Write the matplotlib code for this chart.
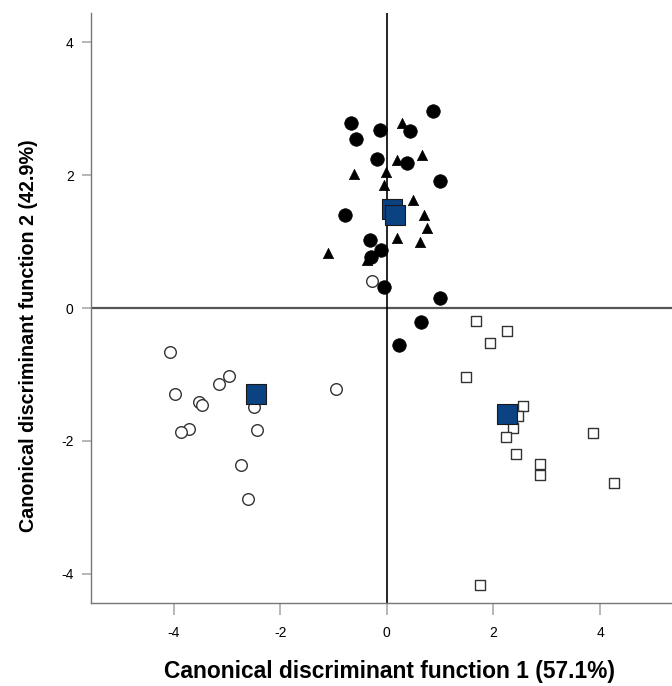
import matplotlib
matplotlib.use("Agg")
import matplotlib.pyplot as plt

plt.rcParams["font.family"] = ["Liberation Sans", "DejaVu Sans"]
plt.rcParams["axes.unicode_minus"] = False

# group 1: filled circles
g1_x = [0.87, -0.675, -0.13, 0.44, -0.57, -0.18, 0.37, 1.0, -0.78, -0.32, -0.11, -0.29, -0.05, 0.99, 0.65, 0.225]
g1_y = [2.96, 2.78, 2.68, 2.66, 2.55, 2.25, 2.18, 1.91, 1.40, 1.02, 0.87, 0.77, 0.32, 0.15, -0.21, -0.56]

# group 2: filled triangles
g2_x = [0.29, 0.66, 0.2, -0.62, -0.02, -0.06, 0.49, 0.70, 0.76, 0.2, 0.62, -1.10, -0.38]
g2_y = [2.78, 2.31, 2.23, 2.01, 2.05, 1.85, 1.63, 1.40, 1.20, 1.05, 1.00, 0.83, 0.73]

# group 3: open circles
g3_x = [-0.28, -4.07, -2.96, -3.15, -3.98, -3.52, -3.46, -0.96, -2.49, -3.71, -3.86, -2.43, -2.74, -2.60]
g3_y = [0.41, -0.66, -1.03, -1.14, -1.29, -1.41, -1.46, -1.22, -1.49, -1.82, -1.87, -1.83, -2.36, -2.87]

# group 4: open squares
g4_x = [1.68, 2.25, 1.93, 1.48, 2.56, 2.46, 2.36, 2.23, 2.42, 3.86, 2.87, 2.87, 4.26, 1.74]
g4_y = [-0.19, -0.34, -0.53, -1.04, -1.47, -1.62, -1.80, -1.94, -2.19, -1.88, -2.35, -2.51, -2.63, -4.17]

# group centroids
cent_x = [0.09, 0.16, -2.46, 2.25]
cent_y = [1.49, 1.40, -1.30, -1.59]

x_ticks = [-4, -2, 0, 2, 4]
y_ticks = [-4, -2, 0, 2, 4]

fig = plt.figure(figsize=(6.72, 6.86), dpi=100)
ax = fig.add_axes([0.1354, 0.121, 0.8646, 0.860])

ax.axhline(0, color="#555555", lw=1.6, zorder=1)
ax.axvline(0, color="black", lw=1.2, zorder=1)

ax.scatter(g3_x, g3_y, s=70, marker="o", facecolor="white", edgecolor="#333333", lw=1.0, zorder=2)
ax.scatter(g4_x, g4_y, s=55, marker="s", facecolor="white", edgecolor="#333333", lw=1.0, zorder=2)
ax.scatter(g1_x, g1_y, s=95, marker="o", facecolor="black", edgecolor="black", lw=0.5, zorder=3)
ax.scatter(g2_x, g2_y, s=55, marker="^", facecolor="black", edgecolor="black", lw=0.5, zorder=3)
ax.scatter(cent_x, cent_y, s=200, marker="s", facecolor="#0b4282", edgecolor="#1a1a1a", lw=0.8, zorder=4)

ax.set_xlim(-5.55, 5.35)
ax.set_ylim(-4.44, 4.44)
ax.set_xticks(x_ticks)
ax.set_yticks(y_ticks)

for side in ["top", "right"]:
    ax.spines[side].set_visible(False)
for side in ["left", "bottom"]:
    ax.spines[side].set_color("#777777")
    ax.spines[side].set_linewidth(1.0)

ax.tick_params(direction="out", width=1.2, color="#aaaaaa", labelsize=10)
ax.tick_params(axis="x", length=8.5, pad=8)
ax.tick_params(axis="y", length=6.5, pad=6)

ax.set_xlabel("Canonical discriminant function 1 (57.1%)", fontsize=16.4, fontweight="bold")
ax.set_ylabel("Canonical discriminant function 2 (42.9%)", fontsize=14.2, fontweight="bold")
ax.xaxis.set_label_coords(0.513, -0.097)
ax.yaxis.set_label_coords(-0.092, 0.4525)

fig.savefig("out.png", dpi=100)
